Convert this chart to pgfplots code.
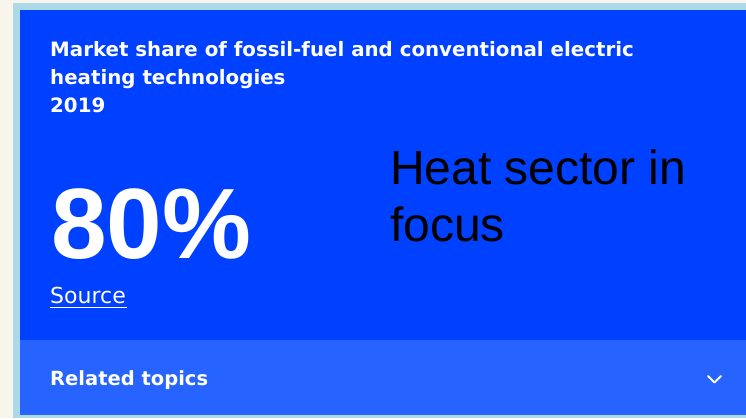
\documentclass[border=0pt]{standalone}
\usepackage{pgfplots}
\pgfplotsset{compat=1.18}
\usepackage{fontspec}
\setmainfont{Liberation Sans}
\newfontfamily\cardfont{DejaVu Sans}
\definecolor{cream}{RGB}{248,245,236}
\definecolor{frame}{RGB}{173,216,232}
\definecolor{card}{RGB}{0,64,255}
\definecolor{cardbar}{RGB}{38,99,255}

\begin{document}
\begin{tikzpicture}
\begin{axis}[
    width=746pt, height=418pt,
    scale only axis,
    xmin=0, xmax=746,
    ymin=0, ymax=418,
    y dir=reverse,
    hide axis,
    clip=false,
]
% background and frame
\fill[cream] (axis cs:0,0) rectangle (axis cs:746,418);
\fill[frame] (axis cs:13,3) rectangle (axis cs:746,418);
% card
\fill[card] (axis cs:20,10) rectangle (axis cs:746,340);
\fill[cardbar] (axis cs:20,340) rectangle (axis cs:746,415);

% title
\node[anchor=base west, inner sep=0, text=white, font=\cardfont\fontsize{19.8}{26}\selectfont\bfseries]
    at (axis cs:50,56) {Market share of fossil-fuel and conventional electric};
\node[anchor=base west, inner sep=0, text=white, font=\cardfont\fontsize{19.8}{26}\selectfont\bfseries]
    at (axis cs:50,84) {heating technologies};
\node[anchor=base west, inner sep=0, text=white, font=\cardfont\fontsize{19.8}{26}\selectfont\bfseries]
    at (axis cs:50,112) {2019};

% key figure
\node[anchor=base west, inner sep=0, text=white, font=\fontsize{100}{110}\selectfont\bfseries]
    at (axis cs:51,258) {80\%};
\node[anchor=base west, inner sep=0, text=white, font=\cardfont\fontsize{22}{26}\selectfont]
    at (axis cs:50,303) {Source};
\draw[white, line width=1.5pt] (axis cs:50,307.5) -- (axis cs:127,307.5);

% note
\node[anchor=base west, inner sep=0, text=black, font=\fontsize{48}{56}\selectfont]
    at (axis cs:390,184) {Heat sector in};
\node[anchor=base west, inner sep=0, text=black, font=\fontsize{48}{56}\selectfont]
    at (axis cs:390,241) {focus};

% related topics bar
\node[anchor=base west, inner sep=0, text=white, font=\cardfont\fontsize{19.5}{24}\selectfont\bfseries]
    at (axis cs:50,385) {Related topics};
\draw[white, line width=2pt, line cap=round, line join=round]
    (axis cs:708,376) -- (axis cs:714.5,382.5) -- (axis cs:721,376);
\end{axis}
\end{tikzpicture}
\end{document}
